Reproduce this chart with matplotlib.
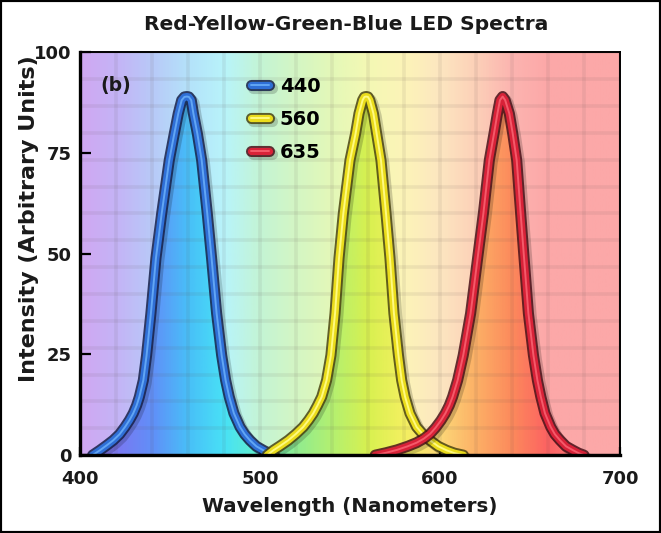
import numpy as np
import matplotlib
matplotlib.use("Agg")
import matplotlib.pyplot as plt
import matplotlib.patheffects as pe
from matplotlib.colors import LinearSegmentedColormap
from matplotlib.patches import Polygon, Rectangle

# values
blue_nm = [407, 411, 415, 418.5, 422, 425, 427.5, 429.6, 431.5, 433, 435.2, 437, 439.4,
           442.2, 445.4, 449.6, 452.4, 454.6, 456.5, 458, 459.4, 460.5, 461.8, 463,
           465.2, 467.6, 470.7, 473.1, 475.9, 478.7, 480.9, 482.9, 485.5, 488.9,
           491.5, 494.4, 498, 501.9, 505, 508]
blue_int = [0, 1.2, 2.5, 3.7, 5.2, 7, 8.7, 10.4, 12.4, 14.5, 18.6, 24.8, 35.2,
            48.9, 60, 73.2, 79.8, 84.8, 88.1, 88.9, 89, 88.9, 88.1, 84.8,
            79.8, 73.2, 60, 48.9, 35.2, 24.8, 18.6, 14.5, 10.4, 7,
            5.2, 3.7, 2.2, 1.2, 0.5, 0]

yellow_nm = [504, 507.4, 511.5, 515.7, 520, 524, 527, 529.6, 532, 534.3, 537, 539.4,
             541.7, 543.9, 546.3, 550, 553.1, 555, 557, 558, 559, 560, 561, 563,
             564.8, 567.2, 570, 572.2, 574.4, 576.9, 578.7, 580.6, 583.3, 587,
             590.5, 594.4, 599, 603.7, 608, 613]
yellow_int = [0, 1.2, 2.4, 3.7, 5.3, 7, 8.7, 10.4, 12.4, 14.5, 18.6, 24.8,
              35.2, 48.9, 60, 73.2, 79.8, 84.8, 88.1, 88.9, 89, 88.9, 88.1, 84.8,
              79.8, 73.2, 60, 48.9, 35.2, 24.8, 18.6, 14.5, 10.4, 7,
              5.2, 3.7, 2.2, 1.2, 0.5, 0]

red_nm = [564, 570, 576, 582, 587, 591, 594.5, 597.5, 600.5, 603, 605.2, 607, 609.8,
          612.9, 617, 620.9, 624.1, 627.4, 630, 631.9, 633.3, 634.8, 636.2, 637.3,
          638.5, 640.4, 642.6, 644.8, 646.7, 649.1, 651.9, 654.1, 656, 658.3,
          661.5, 663.8, 666.7, 670, 674, 677, 680]
red_int = [0, 0.6, 1.3, 2.2, 3.1, 4.1, 5.3, 6.8, 8.6, 10.4, 12.4, 14.5, 18.6,
           24.8, 35.2, 48.9, 60, 73.2, 79.8, 84.8, 88.1, 89, 88.1, 86.5,
           84.8, 79.8, 73.2, 60, 48.9, 35.2, 24.8, 18.6, 14.5, 10.4,
           7, 5.2, 3.7, 2.2, 1.2, 0.5, 0]

series_labels = ["440", "560", "635"]
x_ticks = [400, 500, 600, 700]
y_ticks = [0, 25, 50, 75, 100]

# spectrum colours: pale background and saturated fill under the curves
pale_stops = ["#d0a8f2", "#c4b4f6", "#b8caf8", "#b4e2fa", "#b8f4fa", "#c4f4d4",
              "#d4f6c4", "#e4f8b8", "#f4f8b4", "#fcf4b8", "#fde6c0", "#fcd0b8",
              "#fcb4b0", "#fca8a8", "#fca8a8", "#fca8a8"]
deep_stops = ["#a080f0", "#7a78f2", "#6090f8", "#48c0f8", "#48e2f6", "#64f0c8",
              "#90ec90", "#b4f070", "#d8f050", "#f4f060", "#fcd878", "#fcb066",
              "#fc8a5c", "#fc6262", "#fc8080", "#fc9a9a"]


def main():
    fig = plt.figure(figsize=(6.61, 5.33), dpi=100)
    ax = fig.add_axes([0.121, 0.146, 0.817, 0.756])
    ax.set_xlim(400, 700)
    ax.set_ylim(0, 100)

    pale = LinearSegmentedColormap.from_list("pale", pale_stops)
    deep = LinearSegmentedColormap.from_list("deep", deep_stops)
    grad = np.linspace(0, 1, 600)[None, :]
    ax.imshow(grad, cmap=pale, extent=(400, 700, 0, 100), aspect="auto", zorder=0)

    curves = [
        (blue_nm, blue_int, "#16204a", "#2f6fd6", "#62a6f4"),
        (yellow_nm, yellow_int, "#4a4410", "#eadc1c", "#fffa80"),
        (red_nm, red_int, "#4a1018", "#d82238", "#f45a6a"),
    ]

    # saturated fill under each curve
    for nm, val, *_ in curves:
        poly = Polygon(np.column_stack([nm, val]), closed=True, transform=ax.transData)
        im = ax.imshow(grad, cmap=deep, extent=(400, 700, 0, 100), aspect="auto",
                       zorder=0.5)
        im.set_clip_path(poly)

    # grid
    for gx in np.linspace(400, 700, 16):
        ax.axvline(gx, color="#605050", alpha=0.09, lw=2.6, zorder=1)
    for gy in np.linspace(0, 100, 16):
        ax.axhline(gy, color="#605050", alpha=0.09, lw=2.6, zorder=1)

    handles = {}
    for i in [2, 0, 1]:
        nm, val, dark, mid, light = curves[i]
        line, = ax.plot(nm, val, color=light, lw=1.4, solid_capstyle="round",
                        solid_joinstyle="round", zorder=3 + i, label=series_labels[i])
        line.set_path_effects([
            pe.Stroke(offset=(2, -2), linewidth=8, foreground="k", alpha=0.18),
            pe.Stroke(linewidth=8, foreground=dark, alpha=0.85),
            pe.Stroke(linewidth=5.2, foreground=mid),
            pe.Normal(),
        ])
        handles[i] = line

    ax.legend(handles=[handles[0], handles[1], handles[2]], labels=series_labels,
              loc="upper left", bbox_to_anchor=(0.298, 0.962), frameon=False,
              borderpad=0, handlelength=0.95, handletextpad=0.55, labelspacing=0.72,
              prop={"weight": "bold", "size": 14})

    ax.text(0.037, 0.918, "(b)", transform=ax.transAxes, ha="left", va="center",
            fontsize=13.5, fontweight="bold", color="#1a1a1a")

    # axes frame
    for side in ["left", "bottom"]:
        ax.spines[side].set_linewidth(2.4)
    for side in ["top", "right"]:
        ax.spines[side].set_linewidth(1.4)
    for side in ax.spines:
        ax.spines[side].set_zorder(10)
        ax.spines[side].set_path_effects([
            pe.SimplePatchShadow(offset=(2, -2), alpha=0.35), pe.Normal()])

    ax.set_xticks(x_ticks)
    ax.set_yticks(y_ticks)
    ax.tick_params(axis="both", direction="in", width=1.6, colors="k",
                   labelsize=13, zorder=11)
    ax.tick_params(axis="y", length=8, pad=6)
    ax.tick_params(axis="x", length=6, pad=11)
    for lab in ax.get_xticklabels() + ax.get_yticklabels():
        lab.set_fontweight("bold")
        lab.set_color("#1a1a1a")

    ax.set_xlabel("Wavelength (Nanometers)", fontsize=14.3, fontweight="bold",
                  color="#1a1a1a")
    ax.xaxis.set_label_coords(0.5, -0.105)
    ax.set_ylabel("Intensity (Arbitrary Units)", fontsize=16, fontweight="bold",
                  color="#1a1a1a")
    ax.yaxis.set_label_coords(-0.076, 0.588)

    fig.text(346 / 661, 1 - 25 / 533, "Red-Yellow-Green-Blue LED Spectra", ha="center",
             va="center", fontsize=14.6, fontweight="bold", color="#1a1a1a")

    fig.add_artist(Rectangle((0, 0), 1, 1, transform=fig.transFigure, fill=False,
                             lw=3, ec="k"))

    fig.savefig("out.png", dpi=100)


if __name__ == '__main__':
    main()
